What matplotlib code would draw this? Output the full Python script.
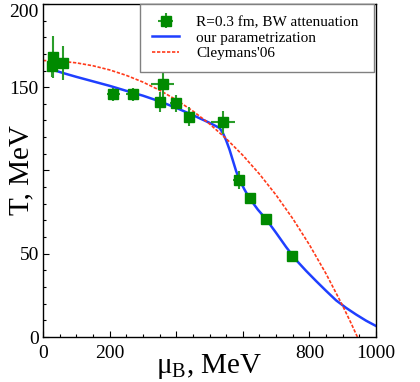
import matplotlib
matplotlib.use("Agg")
import matplotlib.pyplot as plt

plt.rcParams['font.family'] = ['Liberation Serif', 'DejaVu Serif']
plt.rcParams['mathtext.fontset'] = 'stix'

# data points (R=0.3 fm, BW attenuation)
mu = [26, 30, 61, 211, 269, 351, 359, 399, 439, 540, 587, 620, 670, 747]
T = [163, 168, 164.5, 145.8, 145.8, 141.3, 151.7, 140.3, 132.3, 128.8, 94.3, 83.3, 70.9, 48.6]
T_err = [7, 12.5, 10, 4, 4, 6, 12, 5, 5.5, 7, 5.3, 3.4, 2, 0]
mu_err = [5, 5, 5, 20, 20, 15, 35, 18, 15, 37, 17, 15, 12, 0]

# our parametrization
par_mu = [20, 60, 100, 150, 200, 250, 300, 350, 400, 450, 500, 530, 540, 550, 560,
          570, 580, 590, 605, 620, 645, 670, 700, 730, 760, 790, 820, 850, 880,
          910, 940, 970, 1000]
par_T = [161.0, 158.5, 156.2, 153.5, 150.8, 147.8, 144.9, 141.5, 137.6, 133.2, 128.6,
         125.5, 122.5, 118.0, 112.5, 106.0, 99.5, 94.3, 88.5, 83.3, 76.5, 70.7, 62.5,
         54.0, 46.2, 39.7, 33.6, 27.7, 22.0, 17.5, 13.5, 9.8, 6.6]

# Cleymans'06
cl_mu = [0, 50, 100, 150, 200, 250, 300, 350, 400, 450, 500, 550, 600, 650, 700,
         750, 800, 850, 900, 925, 950]
cl_T = [166.0, 165.65, 164.6, 162.85, 160.36, 157.1, 153.06, 148.18, 142.4, 135.68,
        127.94, 119.1, 109.09, 97.81, 85.17, 71.04, 55.33, 37.9, 18.64, 8.27, -2.62]

fig = plt.figure(figsize=(4.2, 3.82), dpi=100)
ax = fig.add_axes([0.1024, 0.1178, 0.793, 0.872])

ax.plot(par_mu, par_T, color='#1f3fff', lw=1.8, label='our parametrization', zorder=2)
ax.plot(cl_mu, cl_T, color='#ff3a1a', lw=1.2, dashes=(2, 1), label="Cleymans'06", zorder=2)
ax.errorbar(mu, T, yerr=T_err, xerr=mu_err, fmt='s', color='#008a00', ms=6.5,
            ecolor='#2a9d2a', elinewidth=1.5, capsize=0, zorder=3,
            label='R=0.3 fm, BW attenuation')

ax.set_xlim(0, 1000)
ax.set_ylim(0, 200)
ax.set_xticks([0, 200, 400, 600, 800, 1000])
ax.set_xticklabels(['0', '200', '', '', '800', '1000'])
ax.set_xticks(range(0, 1001, 50), minor=True)
ax.set_yticks([0, 50, 100, 150, 200])
ax.set_yticklabels(['0', '50', '', '150', '200'])
ax.set_yticks(range(0, 201, 10), minor=True)
ax.tick_params(which='both', direction='in', labelsize=14, width=0.8)
ax.tick_params(which='major', length=4)
ax.tick_params(which='minor', length=2.5)
ax.tick_params(axis='x', pad=6)
ax.tick_params(axis='y', pad=3)
ax.get_yticklabels()[-1].set_va('top')
for s in ax.spines.values():
    s.set_linewidth(1.0)

ax.set_xlabel(r'$\mathregular{\mu_B}$, MeV', fontsize=21, va='baseline')
ax.xaxis.set_label_coords(0.5, -0.108)
ax.set_ylabel('T, MeV', fontsize=21, va='baseline')
ax.yaxis.set_label_coords(-0.045, 0.5)

h, l = ax.get_legend_handles_labels()
leg = ax.legend([h[2], h[0], h[1]], [l[2] + ' ', l[0], l[1]], loc='upper right',
                bbox_to_anchor=(0.994, 1.0), borderaxespad=0, fontsize=11,
                labelspacing=0.12, handlelength=1.8, handletextpad=1.1,
                borderpad=0.75, fancybox=False, framealpha=1)
leg.get_frame().set_edgecolor('#808080')
leg.get_frame().set_linewidth(1.0)

fig.savefig('out.png', dpi=100)
